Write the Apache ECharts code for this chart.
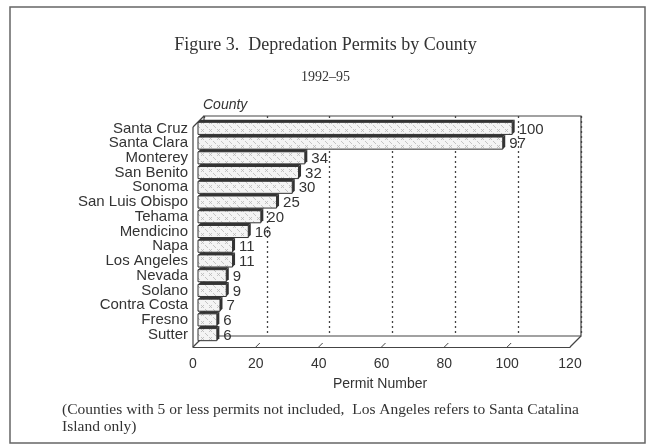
<!DOCTYPE html>
<html lang="en" style="height: 100%">
<head>
    <meta charset="utf-8">
    <script src="https://cdn.jsdelivr.net/npm/echarts@6/dist/echarts.min.js"></script>
</head>
<body style="height: 100%; margin: 0; background: #fff">
<div id="main" style="width: 651px; height: 446px"></div>

<script type="text/javascript">
    // data
    const counties = ['Santa Cruz', 'Santa Clara', 'Monterey', 'San Benito', 'Sonoma', 'San Luis Obispo',
        'Tehama', 'Mendicino', 'Napa', 'Los Angeles', 'Nevada', 'Solano', 'Contra Costa', 'Fresno', 'Sutter'];
    const permits = [100, 97, 34, 32, 30, 25, 20, 16, 11, 11, 9, 9, 7, 6, 6];
    const xTicks = [0, 20, 40, 60, 80, 100, 120];

    // pseudo 3d box: back wall, bar plane, front edge
    const DEPTH = 11;
    const PLOT_W = 377;
    const back = {left: 204, top: 116, width: PLOT_W, height: 220};
    const mid = {left: 198, top: 121, width: PLOT_W, height: 221};
    const front = {left: 193, top: 127, width: PLOT_W, height: 220};
    const ink = '#333';
    const sans = 'Liberation Sans';
    const serif = 'Liberation Serif';

    // light cross hatch fill for the bars
    function hatch() {
        const c = document.createElement('canvas');
        c.width = 8; c.height = 8;
        const g = c.getContext('2d');
        g.fillStyle = '#f4f4f4';
        g.fillRect(0, 0, 8, 8);
        g.strokeStyle = '#b8b8b8';
        g.lineWidth = 0.8;
        g.beginPath();
        g.moveTo(1, 1); g.lineTo(4, 4);
        g.moveTo(4, 1); g.lineTo(1, 4);
        g.moveTo(5, 5); g.lineTo(8, 8);
        g.stroke();
        return c;
    }
    const pattern = {image: hatch(), repeat: 'repeat'};

    const chart = echarts.init(document.getElementById('main'));

    function renderBar(params, api) {
        const idx = api.value(1);
        const p0 = api.coord([0, idx]);
        const p1 = api.coord([api.value(0), idx]);
        const h = api.size([0, 1])[1] * 0.82;
        const top = p0[1] - h / 2, bot = p0[1] + h / 2;
        const t = 2.5;
        return {
            type: 'group',
            children: [
                {type: 'rect', shape: {x: p0[0], y: top, width: p1[0] - p0[0], height: h},
                    style: {fill: pattern, stroke: ink, lineWidth: 1}},
                {type: 'polygon', shape: {points: [[p0[0], top], [p1[0], top], [p1[0] + t, top - t], [p0[0] + t, top - t]]},
                    style: {fill: ink}},
                {type: 'polygon', shape: {points: [[p1[0], top], [p1[0] + t, top - t], [p1[0] + t, bot - t], [p1[0], bot]]},
                    style: {fill: ink}},
                {type: 'text', x: p1[0] + t + 4, y: p0[1] + 1,
                    style: {text: String(api.value(0)), fill: ink, font: '15px ' + sans, verticalAlign: 'middle'}}
            ]
        };
    }

    chart.setOption({
        animation: false,
        title: [
            {text: 'Figure 3.  Depredation Permits by County', left: 'center', top: 36, padding: 0,
                textStyle: {fontFamily: serif, fontSize: 18, fontWeight: 'normal', color: ink}},
            {text: '1992–95', left: 'center', top: 70, padding: 0,
                textStyle: {fontFamily: serif, fontSize: 14, fontWeight: 'normal', color: ink}},
            {text: 'County', left: 203, top: 98, padding: 0,
                textStyle: {fontFamily: sans, fontSize: 14, fontStyle: 'italic', fontWeight: 'normal', color: ink}},
            {text: 'Permit Number', left: 333, top: 377, padding: 0,
                textStyle: {fontFamily: sans, fontSize: 14, fontWeight: 'normal', color: ink}},
            {text: '(Counties with 5 or less permits not included,  Los Angeles refers to Santa Catalina\nIsland only)',
                left: 62, top: 401, padding: 0,
                textStyle: {fontFamily: serif, fontSize: 15.5, fontWeight: 'normal', color: ink, lineHeight: 17}}
        ],
        grid: [
            Object.assign({}, mid),
            Object.assign({show: true, borderColor: '#444', borderWidth: 1.2}, back),
            Object.assign({}, front)
        ],
        xAxis: [
            {gridIndex: 0, type: 'value', min: 0, max: 120, interval: 20, show: false},
            {gridIndex: 1, type: 'value', min: 0, max: 120, interval: 20,
                axisLine: {show: false}, axisTick: {show: false}, axisLabel: {show: false},
                splitLine: {show: true, lineStyle: {color: '#444', type: [2, 3], width: 1.3}}},
            {gridIndex: 2, type: 'value', min: 0, max: 120, interval: 20,
                axisLine: {show: true, lineStyle: {color: '#444', width: 1.2}},
                axisTick: {show: false},
                axisLabel: {fontFamily: sans, fontSize: 14, color: ink, margin: 10,
                    formatter: v => xTicks.indexOf(v) >= 0 ? String(v) : ''},
                splitLine: {show: false}}
        ],
        yAxis: [
            {gridIndex: 0, type: 'category', data: counties, inverse: true,
                axisLine: {show: false}, axisTick: {show: false},
                axisLabel: {interval: 0, fontFamily: sans, fontSize: 15, color: ink, margin: 10,
                    lineHeight: 14, padding: [12, 0, 0, 0]}},
            {gridIndex: 1, type: 'value', show: false, splitLine: {show: false}},
            {gridIndex: 2, type: 'value', show: false, splitLine: {show: false}}
        ],
        series: [{
            type: 'custom',
            xAxisIndex: 0,
            yAxisIndex: 0,
            z: 10,
            renderItem: renderBar,
            data: permits.map((v, i) => [v, i])
        }]
    });

    // walls and floor edges of the box, placed from the axes
    const line = (a, b, w) => ({type: 'line', shape: {x1: a[0], y1: a[1], x2: b[0], y2: b[1]},
        style: {stroke: '#444', lineWidth: w || 1.2}, z: 5});
    const fx0 = chart.convertToPixel({xAxisIndex: 2}, 0);
    const fx1 = chart.convertToPixel({xAxisIndex: 2}, 120);
    const fBot = front.top + front.height, fTop = front.top;
    const shapes = [
        line([fx0, fTop], [fx0, fBot]),
        line([fx0, fTop], [fx0 + DEPTH, fTop - DEPTH]),
        line([fx0, fBot], [fx0 + DEPTH, fBot - DEPTH]),
        line([fx1, fBot], [fx1 + DEPTH, fBot - DEPTH])
    ];
    xTicks.slice(1, -1).forEach(v => {
        const x = chart.convertToPixel({xAxisIndex: 2}, v);
        shapes.push(line([x, fBot], [x + 4, fBot - 4], 1));
    });
    shapes.push({type: 'rect', shape: {x: 10, y: 7, width: 635, height: 436},
        style: {fill: null, stroke: '#666', lineWidth: 1.5}, z: 1});
    chart.setOption({graphic: shapes});
</script>
</body>
</html>
